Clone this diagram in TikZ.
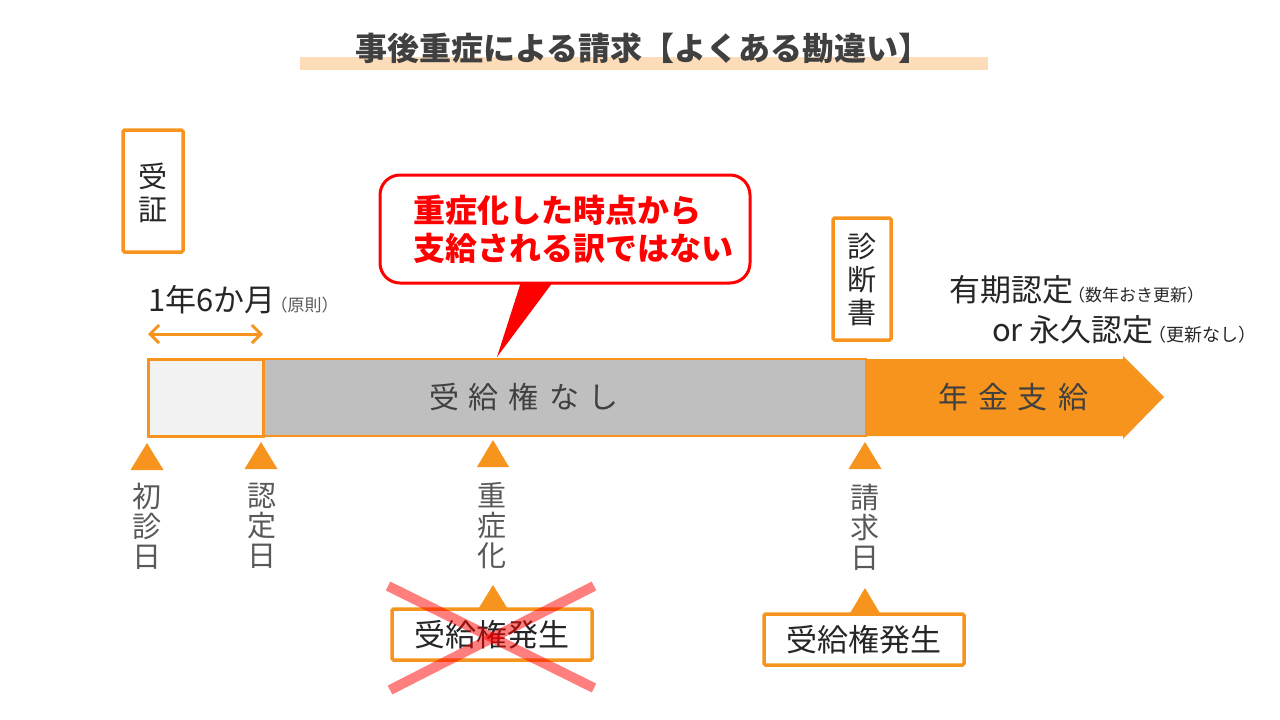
\documentclass[tikz,border=0pt]{standalone}
\usepackage{fontspec}
\setmainfont{Noto Sans CJK JP}
\usetikzlibrary{arrows.meta}
\definecolor{org}{HTML}{F7941D}
\definecolor{peach}{HTML}{FDDDB9}
\definecolor{barg}{HTML}{BFBFBF}
\definecolor{lightg}{HTML}{F2F2F2}
\definecolor{titleg}{HTML}{404040}
\definecolor{labg}{HTML}{595959}
\definecolor{txt}{HTML}{262626}
\newcommand{\fsz}[2]{\fontsize{#1}{#2}\selectfont}
\tikzset{
  obox/.style={draw=org, line width=3.5pt, rounded corners=1.5pt},
  tri/.style={fill=org, draw=none},
  vlab/.style={text=labg, font={\fsz{29}{30}}, align=center, inner sep=0pt},
  vbox/.style={text=txt, font={\fsz{29}{33}}, align=center, inner sep=0pt},
  btext/.style={text=txt, font={\fsz{31}{32}}, inner sep=0pt},
  bartext/.style={text=titleg, font={\fsz{30}{30}}, inner sep=0pt},
}
\newcommand{\lsp}{\hspace{10pt}}
\begin{document}
\begin{tikzpicture}[x=1pt,y=-1pt]
\useasboundingbox (0,0) rectangle (1280,720);
% title
\fill[peach] (300,57) rectangle (988,70);
\node[text=titleg, font={\bfseries\fsz{32}{32}}, inner sep=0pt] (title) at (643,48) {事後重症による請求【よくある勘違い】};
% 受証
\draw[obox] (123,130) rectangle (183,252);
\node[vbox] (jusho) at (153,193) {受\\証};
% 1年6か月
\node[anchor=west, inner sep=0pt, text=txt] (period) at (148,300) {{\fsz{31}{32}1年6か月}\hspace{-5pt}{\fsz{17}{18}\textcolor{labg}{（原則）}}};
\coordinate (pa) at (148,334);
\coordinate (pb) at (263,334);
\draw[org, line width=3pt, {Straight Barb[length=9pt,width=18pt]}-{Straight Barb[length=9pt,width=18pt]}] (pa) -- (pb);
% bar
\fill[org] (865,359) -- (1123,359) -- (1123,356) -- (1164,397) -- (1123,439) -- (1123,436) -- (865,436) -- cycle;
\draw[org, line width=2.5pt, fill=barg] (263,359) rectangle (866,436);
\draw[org, line width=3pt, fill=lightg] (148,359) rectangle (263,436);
\node[bartext] (nashi) at (524,397) {受\lsp 給\lsp 権\lsp な\lsp し};
\node[bartext] (shikyu) at (1013,397) {年\lsp 金\lsp 支\lsp 給};
% callout
\draw[red, line width=3pt, fill=white, rounded corners=20pt] (380,175) rectangle (750,283);
\fill[red] (521,282) -- (553,282) -- (497,357) -- cycle;
\node[anchor=west, text=red, font={\bfseries\fsz{32}{38}}, align=left, inner sep=0pt] (callout) at (413,229) {重症化した時点から\\支給される訳ではない};
% 診断書
\draw[obox] (833,218) rectangle (891,340);
\node[vbox] (shindan) at (862,280) {診\\断\\書};
% 認定
\node[anchor=west, inner sep=0pt, text=txt] (yuki) at (949,290) {{\fsz{31}{32}有期認定}\hspace{-5pt}{\fsz{17}{18}（数年おき更新）}};
\node[anchor=west, inner sep=0pt, text=txt] (eikyu) at (992,330) {{\fsz{31}{32}or 永久認定}\hspace{-5pt}{\fsz{18}{18}（更新なし）}};
% triangles
\fill[tri] (147,443) -- (163.5,470) -- (130.5,470) -- cycle;
\fill[tri] (261,442) -- (277.5,469) -- (244.5,469) -- cycle;
\fill[tri] (493,440) -- (509,467) -- (477,467) -- cycle;
\fill[tri] (865,442) -- (881.5,469) -- (848.5,469) -- cycle;
% labels
\node[vlab] (shoshin) at (147,526) {初\\診\\日};
\node[vlab] (nintei) at (262,526) {認\\定\\日};
\node[vlab] (jusho2) at (492,526) {重\\症\\化};
\node[vlab] (seikyu) at (865,527) {請\\求\\日};
% small triangles and boxes
\fill[tri] (493,585) -- (509,611) -- (477,611) -- cycle;
\fill[tri] (865,588) -- (881,615) -- (849,615) -- cycle;
\draw[obox, fill=white] (392,609) rectangle (592,660);
\node[btext] (hassei1) at (492,635) {受給権発生};
\draw[obox, fill=white] (764,614) rectangle (964,665);
\node[btext] (hassei2) at (864,640) {受給権発生};
% red cross
\draw[red, line width=10pt, opacity=0.5] (388,586) -- (594,688);
\draw[red, line width=10pt, opacity=0.5] (594,586) -- (390,690);
\end{tikzpicture}
\end{document}
